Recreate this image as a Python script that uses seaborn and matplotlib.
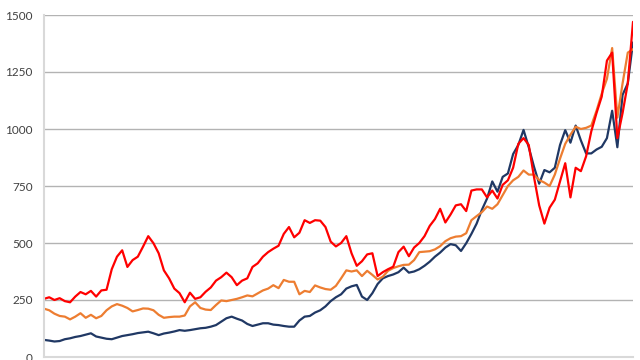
import numpy as np
import pandas as pd
import matplotlib
matplotlib.use("Agg")
import matplotlib.pyplot as plt
import seaborn as sns

# monthly values
navy = [75, 72, 68, 70, 78, 82, 88, 92, 98, 104, 90, 85, 80, 78, 85, 92, 96, 100, 105, 108,
        111, 104, 96, 103, 107, 112, 118, 115, 118, 122, 126, 128, 133, 140, 155, 170, 177, 168, 160, 145,
        136, 142, 148, 148, 142, 140, 136, 133, 133, 160, 177, 180, 195, 205, 222, 245, 262, 275, 300, 310,
        316, 265, 250, 280, 320, 345, 355, 362, 372, 392, 370, 375, 385, 400, 418, 440, 458, 480, 495, 490,
        465, 499, 540, 585, 645, 695, 770, 725, 790, 805, 890, 930, 996, 920, 835, 760, 820, 810, 830, 930,
        995, 940, 1015, 950, 893, 893, 910, 922, 960, 1080, 920, 1150, 1200, 1380]
orange = [212, 205, 190, 180, 177, 165, 177, 192, 172, 185, 170, 180, 205, 222, 232, 225, 215, 200, 206, 213,
          212, 205, 185, 172, 175, 177, 177, 182, 222, 240, 215, 208, 206, 228, 248, 245, 250, 255, 262, 270,
          266, 279, 292, 300, 315, 302, 338, 330, 330, 275, 290, 285, 314, 305, 298, 295, 312, 345, 380, 375,
          380, 355, 378, 360, 340, 352, 378, 390, 398, 404, 405, 425, 460, 462, 464, 472, 486, 508, 521, 528,
          530, 543, 600, 618, 635, 660, 650, 670, 710, 750, 775, 790, 818, 800, 800, 776, 765, 750, 800, 870,
          935, 975, 1010, 1000, 1005, 1015, 1080, 1155, 1220, 1355, 1050, 1200, 1335, 1350]
red = [255, 262, 250, 258, 245, 240, 265, 285, 275, 290, 265, 292, 295, 385, 440, 468, 395, 425, 440, 484,
       530, 499, 455, 380, 345, 300, 280, 240, 282, 255, 262, 286, 305, 335, 350, 370, 350, 315, 335, 345,
       395, 411, 440, 460, 475, 488, 540, 570, 525, 545, 600, 588, 600, 598, 570, 506, 485, 500, 530, 455,
       400, 420, 450, 455, 355, 372, 385, 396, 460, 484, 442, 480, 500, 530, 575, 605, 650, 590, 625, 665,
       670, 640, 730, 735, 735, 700, 730, 695, 755, 775, 830, 935, 960, 930, 790, 665, 585, 655, 690, 770,
       850, 700, 830, 815, 880, 990, 1070, 1142, 1300, 1335, 960, 1070, 1200, 1470]
months = list(range(len(navy)))
series_names = ["navy", "orange", "red"]
colors = ["#203864", "#ED7D31", "#FF0000"]
yticks = [0, 250, 500, 750, 1000, 1250, 1500]

df = pd.DataFrame({"month": months * 3,
                   "value": navy + orange + red,
                   "series": sum([[n] * len(months) for n in series_names], [])})

sns.set_style("white")
plt.rcParams["font.family"] = ["Lato", "DejaVu Sans"]

fig = plt.figure(figsize=(6.4, 3.6), dpi=100)
ax = fig.add_axes([44 / 640, 3 / 360, 589 / 640, 342 / 360])

sns.lineplot(data=df, x="month", y="value", hue="series", palette=colors,
             linewidth=1.6, legend=False, ax=ax)

ax.set_xlim(0, months[-1])
ax.set_ylim(0, 1500)
ax.set_yticks(yticks)
ax.set_xticks(np.arange(0, months[-1], 12))
ax.set_xticklabels([])
ax.yaxis.grid(True, color="#B3B3B3", linewidth=1)
ax.set_axisbelow(True)
ax.set_xlabel("")
ax.set_ylabel("")
for s in ["top", "right"]:
    ax.spines[s].set_visible(False)
for s in ["left", "bottom"]:
    ax.spines[s].set_color("#D9D9D9")
    ax.spines[s].set_linewidth(1.5)
ax.tick_params(axis="y", length=0, pad=8, labelsize=8.5, labelcolor="#404040")
ax.tick_params(axis="x", length=4, color="#D9D9D9", width=1, direction="out")

fig.savefig("out.png", dpi=100)
